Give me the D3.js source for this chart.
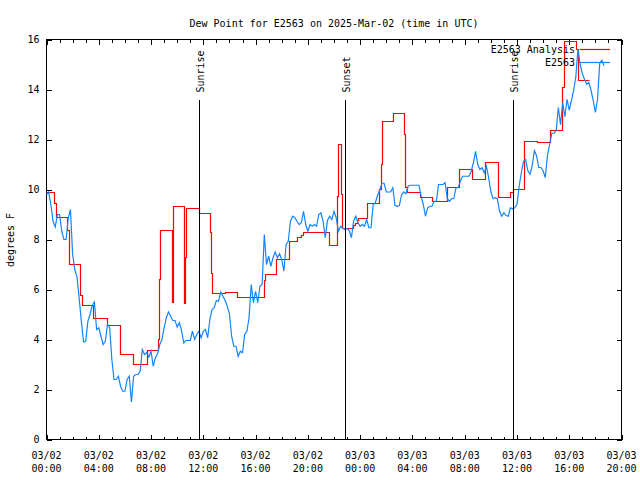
<!DOCTYPE html>
<html><head><meta charset="utf-8">
<script src="https://cdn.jsdelivr.net/npm/d3@7/dist/d3.min.js"></script>
<style>
body{margin:0;background:#fff}
svg{display:block}
text{font-family:"DejaVu Sans Mono",monospace;font-size:10px;fill:#000}
</style>
</head><body><svg id="c" width="640" height="480"></svg>
<script>
const titleText = "Dew Point for E2563 on 2025-Mar-02 (time in UTC)";
const yAxisLabel = "degrees F";
const seriesNames = ["E2563 Analysis", "E2563"];
const seriesColors = ["#ff0000", "#1185ff"];
const startUTC = Date.UTC(2025, 2, 2, 0, 0);
const endUTC = Date.UTC(2025, 2, 3, 20, 0);
const yTicks = [0, 2, 4, 6, 8, 10, 12, 14, 16];

// Analysis (step) series: hours since 03/02 00:00 UTC, value (deg F)
const analysisHours = [0, 0.61, 0.74, 1.63, 1.76, 2.60, 2.73, 3.61, 4.64, 5.65,
  6.62, 7.74, 8.58, 8.66, 8.73, 9.63, 9.68, 9.72, 10.57, 10.62,
  10.69, 11.71, 12.53, 12.60, 12.73, 13.67, 14.61, 16.68, 16.75, 17.62,
  18.59, 19.17, 19.48, 19.66, 21.64, 22.25, 22.33, 22.57, 22.63, 23.48,
  23.61, 23.76, 23.91, 24.58, 25.49, 25.61, 25.72, 26.56, 27.40, 27.50,
  27.65, 28.59, 29.56, 30.66, 31.63, 32.62, 33.61, 34.57, 35.54, 35.71,
  36.55, 37.58, 38.55, 39.52, 39.61, 40.59, 40.68, 41.53];
const analysisValues = [9.9, 9.44, 8.9, 8.35, 7.0, 5.77, 5.35, 4.83, 4.57, 3.4,
  3.0, 3.57, 4.0, 6.4, 8.36, 5.5, 7.0, 9.3, 5.43, 7.3,
  9.23, 9.04, 8.27, 6.64, 5.83, 5.9, 5.69, 6.36, 6.6, 7.2,
  7.93, 8.07, 8.17, 8.29, 7.76, 9.73, 11.8, 9.8, 8.43, 8.55,
  8.65, 8.75, 8.84, 9.45, 10.0, 11.0, 12.73, 13.03, 12.2, 10.07,
  9.87, 9.67, 9.53, 10.07, 10.8, 10.4, 11.1, 9.69, 9.89, 10.0,
  11.93, 11.9, 12.36, 14.1, 15.9, 15.6, 14.35, 14.35];

// Observations: one reading every 10 minutes from 03/02 00:00 UTC
const obsStepMinutes = 10;
const obsValues = [
  9.8, 9.9, 9.4, 8.73, 8.5, 9.0, 9.0, 8.33, 8.0, 8.0,
  8.87, 9.2, 7.4, 6.8, 6.5, 5.64, 4.73, 3.9, 3.93, 4.73,
  5.0, 5.37, 5.5, 4.4, 4.47, 4.13, 3.8, 3.93, 4.6, 4.47,
  3.2, 2.4, 2.4, 2.53, 2.13, 1.93, 1.93, 2.4, 2.53, 1.5,
  2.53, 2.6, 2.6, 2.73, 3.6, 3.4, 3.47, 3.3, 3.53, 2.93,
  3.27, 3.43, 3.8, 4.0, 4.47, 4.87, 5.1, 4.93, 4.76, 4.76,
  4.5, 4.67, 4.36, 3.87, 3.96, 3.96, 3.96, 4.33, 4.0, 4.2,
  4.33, 4.07, 4.33, 4.4, 4.07, 4.8, 5.2, 5.27, 5.56, 5.53,
  5.9, 5.73, 5.56, 5.33, 5.03, 4.13, 3.73, 3.73, 3.33, 3.53,
  3.47, 4.2, 4.33, 4.87, 6.2, 5.47, 5.93, 5.47, 6.13, 6.2,
  8.2, 7.0, 7.33, 6.93, 7.27, 7.5, 7.27, 7.43, 7.2, 6.73,
  7.8, 7.93, 8.73, 8.93, 8.87, 8.73, 8.6, 8.67, 9.13, 8.6,
  8.33, 8.6, 8.53, 8.6, 8.53, 9.0, 9.07, 8.73, 8.07, 8.76,
  8.93, 8.8, 9.13, 8.87, 8.33, 8.53, 8.47, 8.4, 8.44, 8.36,
  8.07, 8.73, 8.93, 8.67, 8.53, 8.6, 8.53, 8.8, 8.47, 8.47,
  9.4, 9.47, 9.77, 9.96, 10.25, 10.25, 9.9, 9.9, 9.9, 10.07,
  9.37, 9.33, 9.36, 9.77, 9.9, 9.83, 10.13, 10.17, 10.17, 10.17,
  10.17, 10.17, 9.73, 9.4, 8.93, 9.27, 9.33, 9.33, 9.53, 9.53,
  10.2, 10.2, 10.2, 10.27, 9.63, 9.53, 9.63, 9.63, 10.07, 10.07,
  10.33, 10.53, 10.53, 10.53, 10.53, 10.73, 11.07, 11.53, 11.0, 10.8,
  10.87, 10.67, 10.93, 10.47, 9.93, 9.63, 9.67, 9.63, 9.13, 8.93,
  9.07, 8.96, 8.93, 9.27, 9.23, 9.27, 9.4, 10.13, 10.67, 11.13,
  11.2, 10.75, 10.61, 10.95, 11.55, 11.35, 10.88, 10.88, 10.75, 10.48,
  11.35, 11.81, 12.25, 12.25, 12.35, 13.28, 12.59, 13.48, 12.91, 13.61,
  13.17, 13.55, 13.95, 14.48, 15.61, 15.01, 14.64, 14.41, 14.21, 14.28,
  13.97, 13.57, 13.08, 13.61, 15.04, 15.17, 14.95];

// Sun events: label, hours since 03/02 00:00 UTC
const sunLabels = ["Sunrise", "Sunset", "Sunrise"];
const sunHours = [11.70, 22.87, 35.72];

const HOUR = 3600e3;
const toDate = h => new Date(startUTC + h * HOUR);

const svg = d3.select("#c");
const L = 46.5, R = 621.5, T = 39.5, B = 439.5;
const x = d3.scaleUtc().domain([new Date(startUTC), new Date(endUTC)]).range([L, R]);
const y = d3.scaleLinear().domain([0, 16]).range([B, T]);
const px = v => Math.round(v - 0.5) + 0.5;

// title
svg.append("text").attr("x", (L + R) / 2).attr("y", 27).attr("text-anchor", "middle").text(titleText);

// y label
svg.append("text").attr("transform", "translate(14,240) rotate(-90)").attr("text-anchor", "middle").text(yAxisLabel);

const majorX = d3.utcHour.every(4).range(new Date(startUTC), new Date(endUTC + 1));
const minorX = d3.utcHour.every(1).range(new Date(startUTC), new Date(endUTC + 1));

const axG = svg.append("g").attr("shape-rendering", "crispEdges");
function styleAxis(g) { g.select(".domain").remove(); g.selectAll("line").attr("stroke", "#000"); }

axG.append("g").attr("transform", `translate(${L},0)`)
  .call(d3.axisLeft(y).tickValues(yTicks).tickSizeInner(-5).tickSizeOuter(0).tickPadding(7).tickFormat(d3.format("d")))
  .call(styleAxis)
  .call(g => g.selectAll("text").attr("font-family", "DejaVu Sans Mono").attr("font-size", 10));
axG.append("g").attr("transform", `translate(${R},0)`)
  .call(d3.axisRight(y).tickValues(yTicks).tickSizeInner(-5).tickSizeOuter(0).tickFormat(""))
  .call(styleAxis);

[[B, d3.axisBottom], [T, d3.axisTop]].forEach(([yy, ax]) => {
  axG.append("g").attr("transform", `translate(0,${yy})`)
    .call(ax(x).tickValues(minorX).tickSizeInner(-3).tickSizeOuter(0).tickFormat(""))
    .call(styleAxis);
  axG.append("g").attr("transform", `translate(0,${yy})`)
    .call(ax(x).tickValues(majorX).tickSizeInner(-5).tickSizeOuter(0).tickFormat(""))
    .call(styleAxis);
});

// x tick labels (two lines)
const fmtDate = d3.utcFormat("%m/%d"), fmtTime = d3.utcFormat("%H:%M");
const xl = svg.append("g").selectAll("text").data(majorX).join("text")
  .attr("x", d => x(d)).attr("text-anchor", "middle");
xl.append("tspan").attr("x", d => x(d)).attr("y", 459).text(d => fmtDate(d));
xl.append("tspan").attr("x", d => x(d)).attr("y", 472).text(d => fmtTime(d));

// frame
axG.append("rect").attr("x", L).attr("y", T).attr("width", R - L).attr("height", B - T)
  .attr("fill", "none").attr("stroke", "#000");

// data
const analysis = analysisHours.map((h, i) => [toDate(h), analysisValues[i]]);
const obs = obsValues.map((v, i) => [new Date(startUTC + i * obsStepMinutes * 60e3), v]);

svg.append("path").datum(analysis)
  .attr("d", d3.line().x(d => px(x(d[0]))).y(d => px(y(d[1]))).curve(d3.curveStepAfter))
  .attr("fill", "none").attr("stroke", seriesColors[0]).attr("stroke-width", 1.2);
svg.append("path").datum(obs)
  .attr("d", d3.line().x(d => x(d[0])).y(d => y(d[1])))
  .attr("fill", "none").attr("stroke", seriesColors[1]).attr("stroke-width", 1.2);

// sunrise / sunset markers
const sunTop = T + (B - T) * 0.15;
const sg = svg.append("g");
sunHours.forEach((h, i) => {
  const xx = px(x(toDate(h)));
  sg.append("line").attr("x1", xx).attr("x2", xx).attr("y1", sunTop).attr("y2", B)
    .attr("stroke", "#000").attr("shape-rendering", "crispEdges");
  sg.append("text").attr("transform", `translate(${xx + 4},${sunTop - 7}) rotate(-90)`)
    .attr("text-anchor", "start").text(sunLabels[i]);
});

// legend
const lg = svg.append("g");
seriesNames.forEach((n, i) => {
  const ly = 49.5 + i * 13;
  lg.append("text").attr("x", 575).attr("y", ly + 3.5).attr("text-anchor", "end").text(n);
  lg.append("line").attr("x1", 580).attr("x2", 610).attr("y1", ly).attr("y2", ly)
    .attr("stroke", seriesColors[i]).attr("stroke-width", 1.2);
});
</script></body></html>
